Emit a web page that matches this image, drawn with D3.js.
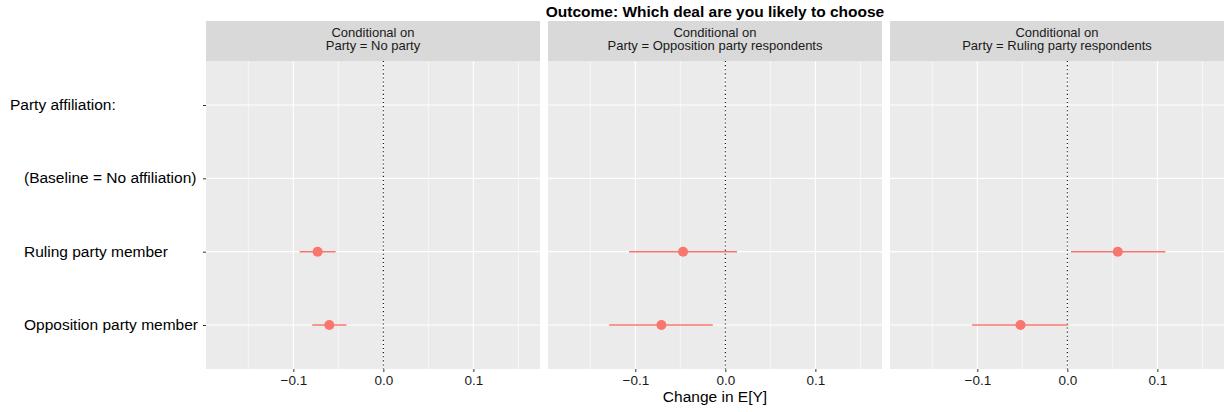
<!DOCTYPE html>
<html>
<head>
<meta charset="utf-8">
<script src="https://cdn.jsdelivr.net/npm/d3@7"></script>
<style>
  body { margin: 0; background: #fff; }
  svg { font-family: "Liberation Sans", Arial, sans-serif; }
</style>
</head>
<body>
<div id="canvas"></div>
<script>
// data
var panels = ['No party', 'Opposition party respondents', 'Ruling party respondents'];
var levels = ['Party affiliation:', '(Baseline = No affiliation)', 'Ruling party member', 'Opposition party member'];
var estimates = [
  [null, null, -0.073, -0.060],
  [null, null, -0.047, -0.071],
  [null, null, 0.056, -0.052]
];
var lower = [
  [null, null, -0.093, -0.079],
  [null, null, -0.107, -0.129],
  [null, null, 0.004, -0.106]
];
var upper = [
  [null, null, -0.053, -0.041],
  [null, null, 0.013, -0.014],
  [null, null, 0.109, 0.001]
];
var xTicks = [-0.1, 0.0, 0.1];
var xMinor = [-0.15, -0.05, 0.05, 0.15];

var width = 1224, height = 412;
var padLeft = 206, padTop = 61, padBottom = 369, panelW = 334, gap = 8, stripH = 40;

var svg = d3.select('#canvas').append('svg')
  .attr('width', width)
  .attr('height', height);

var x = d3.scaleLinear().domain([-0.197, 0.174]).range([0, panelW]);
var y = d3.scalePoint().domain(levels).range([padTop, padBottom]).padding(0.6);

var fmt = function (d) { return d3.format('.1f')(d).replace('-', '\u2212'); };

panels.forEach(function (name, p) {
  var g = svg.append('g')
    .attr('transform', 'translate(' + (padLeft + p * (panelW + gap)) + ',0)');

  // strip
  g.append('rect')
    .attr('x', 0).attr('y', padTop - stripH)
    .attr('width', panelW).attr('height', stripH)
    .attr('fill', '#d9d9d9');
  g.append('text')
    .attr('x', panelW / 2).attr('y', padTop - stripH + 16)
    .attr('text-anchor', 'middle')
    .attr('font-size', 13).attr('fill', '#1a1a1a')
    .text('Conditional on');
  g.append('text')
    .attr('x', panelW / 2).attr('y', padTop - stripH + 29)
    .attr('text-anchor', 'middle')
    .attr('font-size', 13).attr('fill', '#1a1a1a')
    .text('Party = ' + name);

  // panel background
  g.append('rect')
    .attr('x', 0).attr('y', padTop)
    .attr('width', panelW).attr('height', padBottom - padTop)
    .attr('fill', '#ebebeb');

  g.selectAll('line.minor').data(xMinor).enter().append('line')
    .attr('class', 'minor')
    .attr('x1', function (d) { return x(d); }).attr('x2', function (d) { return x(d); })
    .attr('y1', padTop).attr('y2', padBottom)
    .attr('stroke', '#fff').attr('stroke-width', 0.6);
  g.selectAll('line.major').data(xTicks).enter().append('line')
    .attr('class', 'major')
    .attr('x1', function (d) { return x(d); }).attr('x2', function (d) { return x(d); })
    .attr('y1', padTop).attr('y2', padBottom)
    .attr('stroke', '#fff').attr('stroke-width', 1.1);
  g.selectAll('line.hmajor').data(levels).enter().append('line')
    .attr('class', 'hmajor')
    .attr('x1', 0).attr('x2', panelW)
    .attr('y1', function (d) { return y(d); }).attr('y2', function (d) { return y(d); })
    .attr('stroke', '#fff').attr('stroke-width', 1.1);

  // zero reference
  g.append('line')
    .attr('x1', x(0)).attr('x2', x(0))
    .attr('y1', padTop).attr('y2', padBottom)
    .attr('stroke', '#000').attr('stroke-width', 1.1)
    .attr('stroke-dasharray', '1.1,3');

  var rows = levels.map(function (l, i) {
    return { level: l, est: estimates[p][i], lo: lower[p][i], hi: upper[p][i] };
  }).filter(function (d) { return d.est !== null; });

  g.selectAll('line.ci').data(rows).enter().append('line')
    .attr('class', 'ci')
    .attr('x1', function (d) { return x(d.lo); }).attr('x2', function (d) { return x(d.hi); })
    .attr('y1', function (d) { return y(d.level); }).attr('y2', function (d) { return y(d.level); })
    .attr('stroke', '#f8766d').attr('stroke-width', 1.5);
  g.selectAll('circle').data(rows).enter().append('circle')
    .attr('cx', function (d) { return x(d.est); })
    .attr('cy', function (d) { return y(d.level); })
    .attr('r', 5)
    .attr('fill', '#f8766d');

  // x axis
  var ax = g.append('g')
    .attr('transform', 'translate(0,' + padBottom + ')')
    .call(d3.axisBottom(x).tickValues(xTicks).tickFormat(fmt).tickSize(3).tickPadding(3));
  ax.select('.domain').remove();
  ax.selectAll('line').attr('stroke', '#333');
  ax.selectAll('text').attr('font-size', 13.5).attr('fill', '#1a1a1a')
    .attr('font-family', '"Liberation Sans", Arial, sans-serif');
});

// y axis on first panel
var ay = svg.append('g')
  .attr('transform', 'translate(' + padLeft + ',0)')
  .call(d3.axisLeft(y).tickSize(3).tickFormat(''));
ay.select('.domain').remove();
ay.selectAll('line').attr('stroke', '#333');

svg.selectAll('text.ylab').data(levels).enter().append('text')
  .attr('class', 'ylab')
  .attr('x', function (d, i) { return i === 0 ? 10 : 24; })
  .attr('y', function (d) { return y(d) + 5; })
  .attr('font-size', 15.5).attr('fill', '#000')
  .text(function (d) { return d; });

svg.append('text')
  .attr('x', (padLeft + width) / 2).attr('y', 17)
  .attr('text-anchor', 'middle')
  .attr('font-size', 15.5).attr('font-weight', 'bold')
  .text('Outcome: Which deal are you likely to choose');

svg.append('text')
  .attr('x', (padLeft + width) / 2).attr('y', 402)
  .attr('text-anchor', 'middle')
  .attr('font-size', 15.5)
  .text('Change in E[Y]');
</script>
</body>
</html>
